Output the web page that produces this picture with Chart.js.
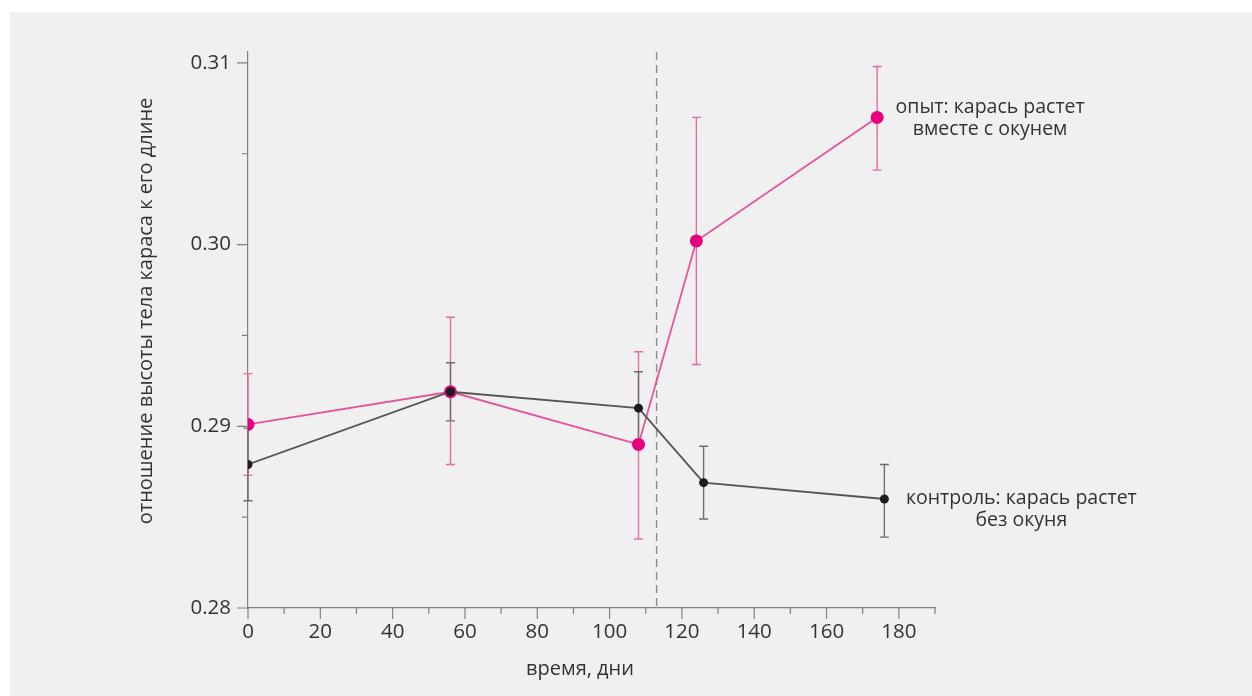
<!DOCTYPE html>
<html>
<head>
<meta charset="utf-8">
<script src="https://cdn.jsdelivr.net/npm/chart.js@4"></script>
<style>
  body { margin: 0; background: #fff; }
  #panel { position: absolute; left: 10px; top: 12px; width: 1242px; height: 684px; background: #f0f0f0; }
  #wrap { position: absolute; left: 0; top: 0; width: 1252px; height: 696px; }
</style>
</head>
<body>
<div id="panel"></div>
<div id="wrap"><canvas id="chart" width="1252" height="696"></canvas></div>
<script>
// values
const daysExp = [0, 56, 108, 124, 174];
const ratioExp = [0.2901, 0.2919, 0.2890, 0.3002, 0.3070];
const lowExp = [0.2873, 0.2879, 0.2838, 0.2934, 0.3041];
const highExp = [0.2929, 0.2960, 0.2941, 0.3070, 0.3098];

const daysCtrl = [0, 56, 108, 126, 176];
const ratioCtrl = [0.2879, 0.2919, 0.2910, 0.2869, 0.2860];
const lowCtrl = [0.2859, 0.2903, 0.2890, 0.2849, 0.2839];
const highCtrl = [0.2899, 0.2935, 0.2930, 0.2889, 0.2879];

const perchAddedDay = 113;
const labelExp = ['опыт: карась растет', 'вместе с окунем'];
const labelCtrl = ['контроль: карась растет', 'без окуня'];
const xTitle = 'время, дни';
const yTitle = 'отношение высоты тела караса к его длине';

const FONT = '"Open Sans", "Noto Sans", sans-serif';
const TEXT = '#333';
const AXIS = '#808080';
const PINK = '#e5007d';
const PINK_LINE = '#e4549c';
const DARK = '#1c1c1c';
const GRAY_LINE = '#555';

const toPoints = (xs, ys) => xs.map((x, i) => ({ x: x, y: ys[i] }));

// error bars, drawn under the markers
const errorBars = {
    id: 'errorBars',
    beforeDatasetsDraw(chart) {
        const { ctx, scales: { x, y } } = chart;
        const sets = [
            { days: daysExp, low: lowExp, high: highExp, color: '#e86aa6' },
            { days: daysCtrl, low: lowCtrl, high: highCtrl, color: '#6e6e6e' }
        ];
        ctx.save();
        ctx.lineWidth = 1.4;
        sets.forEach(s => {
            ctx.strokeStyle = s.color;
            s.days.forEach((d, i) => {
                const px = x.getPixelForValue(d);
                const top = y.getPixelForValue(s.high[i]);
                const bot = y.getPixelForValue(s.low[i]);
                ctx.beginPath();
                ctx.moveTo(px, top); ctx.lineTo(px, bot);
                ctx.moveTo(px - 4.5, top); ctx.lineTo(px + 4.5, top);
                ctx.moveTo(px - 4.5, bot); ctx.lineTo(px + 4.5, bot);
                ctx.stroke();
            });
        });
        // dashed line: day the perch was added
        const dx = x.getPixelForValue(perchAddedDay);
        ctx.strokeStyle = '#8c8c8c';
        ctx.lineWidth = 1.4;
        ctx.setLineDash([8, 5]);
        ctx.beginPath();
        ctx.moveTo(dx, chart.chartArea.top);
        ctx.lineTo(dx, chart.chartArea.bottom);
        ctx.stroke();
        ctx.restore();
    }
};

// tick marks (long on labelled values, short in between), titles and series labels
const decorations = {
    id: 'decorations',
    afterDraw(chart) {
        const { ctx, chartArea, scales: { x, y } } = chart;
        ctx.save();
        ctx.strokeStyle = AXIS;
        ctx.lineWidth = 1.2;
        ctx.beginPath();
        x.ticks.forEach(t => {
            const px = x.getPixelForValue(t.value);
            const len = t.value % 20 === 0 ? 11 : 6;
            ctx.moveTo(px, chartArea.bottom); ctx.lineTo(px, chartArea.bottom + len);
        });
        y.ticks.forEach(t => {
            const py = y.getPixelForValue(t.value);
            const len = Math.round(t.value * 1000) % 10 === 0 ? 11 : 6;
            ctx.moveTo(chartArea.left, py); ctx.lineTo(chartArea.left - len, py);
        });
        ctx.stroke();

        ctx.fillStyle = TEXT;
        ctx.font = '20px ' + FONT;
        ctx.textAlign = 'center';
        ctx.textBaseline = 'alphabetic';
        ctx.fillText(xTitle, 580, 675);

        ctx.save();
        ctx.translate(152, 311);
        ctx.rotate(-Math.PI / 2);
        ctx.fillText(yTitle, 0, 0);
        ctx.restore();

        ctx.font = '19.5px ' + FONT;
        const lastExp = chart.getDatasetMeta(1).data[daysExp.length - 1];
        labelExp.forEach((s, i) => ctx.fillText(s, lastExp.x + 113, lastExp.y - 4 + i * 22));
        const lastCtrl = chart.getDatasetMeta(0).data[daysCtrl.length - 1];
        labelCtrl.forEach((s, i) => ctx.fillText(s, lastCtrl.x + 137, lastCtrl.y + 5 + i * 22));
        ctx.restore();
    }
};

new Chart(document.getElementById('chart'), {
    type: 'line',
    data: {
        datasets: [{
            label: 'контроль',
            data: toPoints(daysCtrl, ratioCtrl),
            borderColor: GRAY_LINE,
            borderWidth: 1.8,
            pointRadius: 4.5,
            pointBackgroundColor: DARK,
            pointBorderWidth: 0,
            tension: 0
        }, {
            label: 'опыт',
            data: toPoints(daysExp, ratioExp),
            borderColor: PINK_LINE,
            borderWidth: 1.8,
            pointRadius: 6.5,
            pointBackgroundColor: PINK,
            pointBorderWidth: 0,
            tension: 0
        }]
    },
    options: {
        responsive: false,
        animation: false,
        layout: { padding: { top: 52, right: 317, bottom: 0, left: 0 } },
        plugins: { legend: { display: false }, tooltip: { enabled: false } },
        scales: {
            x: {
                type: 'linear',
                min: 0,
                max: 190,
                afterFit(scale) { scale.height = 88; },
                grid: { display: false },
                border: { display: true, color: AXIS, width: 1.2 },
                ticks: {
                    stepSize: 10,
                    autoSkip: false,
                    maxRotation: 0,
                    includeBounds: false,
                    padding: 4,
                    color: TEXT,
                    font: { family: FONT, size: 20.5 },
                    callback: v => (v % 20 === 0 && v <= 180 ? v : '')
                }
            },
            y: {
                min: 0.28,
                max: 0.3106,
                afterFit(scale) { scale.width = 248; },
                grid: { display: false },
                border: { display: true, color: AXIS, width: 1.2 },
                ticks: {
                    stepSize: 0.005,
                    autoSkip: false,
                    includeBounds: false,
                    padding: 9,
                    color: TEXT,
                    font: { family: FONT, size: 20.5 },
                    callback: v => (Math.round(v * 1000) % 10 === 0 ? v.toFixed(2) : '')
                }
            }
        }
    },
    plugins: [errorBars, decorations]
});
</script>
</body>
</html>
